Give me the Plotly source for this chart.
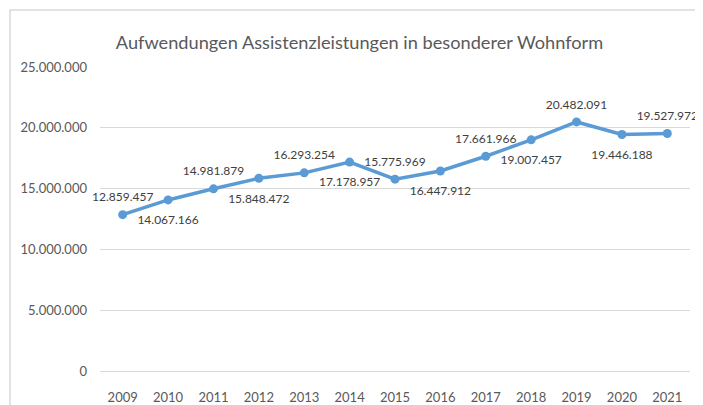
import plotly.graph_objects as go

# Aufwendungen je Jahr (Euro)
jahre = ["2009", "2010", "2011", "2012", "2013", "2014", "2015",
         "2016", "2017", "2018", "2019", "2020", "2021"]
aufwendungen = [12859457, 14067166, 14981879, 15848472, 16293254, 17178957, 15775969,
                16447912, 17661966, 19007457, 20482091, 19446188, 19527972]

titel = "Aufwendungen Assistenzleistungen in besonderer Wohnform"

# Beschriftungen abwechselnd oben / unten
positionen = ["top center" if i % 2 == 0 else "bottom center" for i in range(len(jahre))]
# Abstand der Zahlen zum Punkt (ueber unsichtbare Markergroesse)
abstand = [15 if p == "top center" else 23 for p in positionen]

# Seite hat 8px Rand im Browser, daher etwas kleiner
W, H = 695, 397

fig = go.Figure()
fig.add_trace(go.Scatter(
    x=jahre,
    y=aufwendungen,
    mode="text+markers",
    marker=dict(color="rgba(0,0,0,0)", size=abstand, line=dict(width=0)),
    texttemplate="%{y:,}",
    textposition=positionen,
    textfont=dict(family="Lato", size=12, color="#404040"),
    showlegend=False,
    hoverinfo="skip",
    cliponaxis=False,
))
fig.add_trace(go.Scatter(
    x=jahre,
    y=aufwendungen,
    mode="lines+markers",
    line=dict(color="#5B9BD5", width=3.5),
    marker=dict(color="#5B9BD5", size=9, line=dict(width=0)),
    showlegend=False,
))

fig.update_layout(
    width=W,
    height=H,
    margin=dict(l=92, r=13, t=59, b=34),
    paper_bgcolor="white",
    plot_bgcolor="white",
    separators=",.",
    title=dict(
        text=titel,
        x=(359.5 - 8) / W, xref="container", xanchor="center",
        y=1 - 35 / H, yref="container", yanchor="middle",
        font=dict(family="Lato", size=18.2, color="#595959"),
    ),
    xaxis=dict(
        automargin=False,
        type="category",
        range=[-0.5, len(jahre) - 0.5],
        showgrid=False,
        showline=True, linecolor="#D9D9D9", linewidth=1,
        ticks="outside", ticklen=14, tickcolor="rgba(0,0,0,0)",
        tickfont=dict(family="Lato", size=13, color="#595959"),
    ),
    yaxis=dict(
        automargin=False,
        range=[0, 25000000],
        dtick=5000000,
        tickformat=",d",
        showgrid=True, gridcolor="#D9D9D9", gridwidth=1,
        zeroline=False,
        showline=False,
        ticklabelstandoff=12,
        tickfont=dict(family="Lato", size=13, color="#595959"),
    ),
    shapes=[dict(
        type="rect", xref="paper", yref="paper",
        x0=-90 / 590, x1=1.2, y0=-0.3, y1=1 + 57 / 304,
        line=dict(color="#D9D9D9", width=1.5),
        layer="below",
    )],
)

fig.write_html("out.html")
